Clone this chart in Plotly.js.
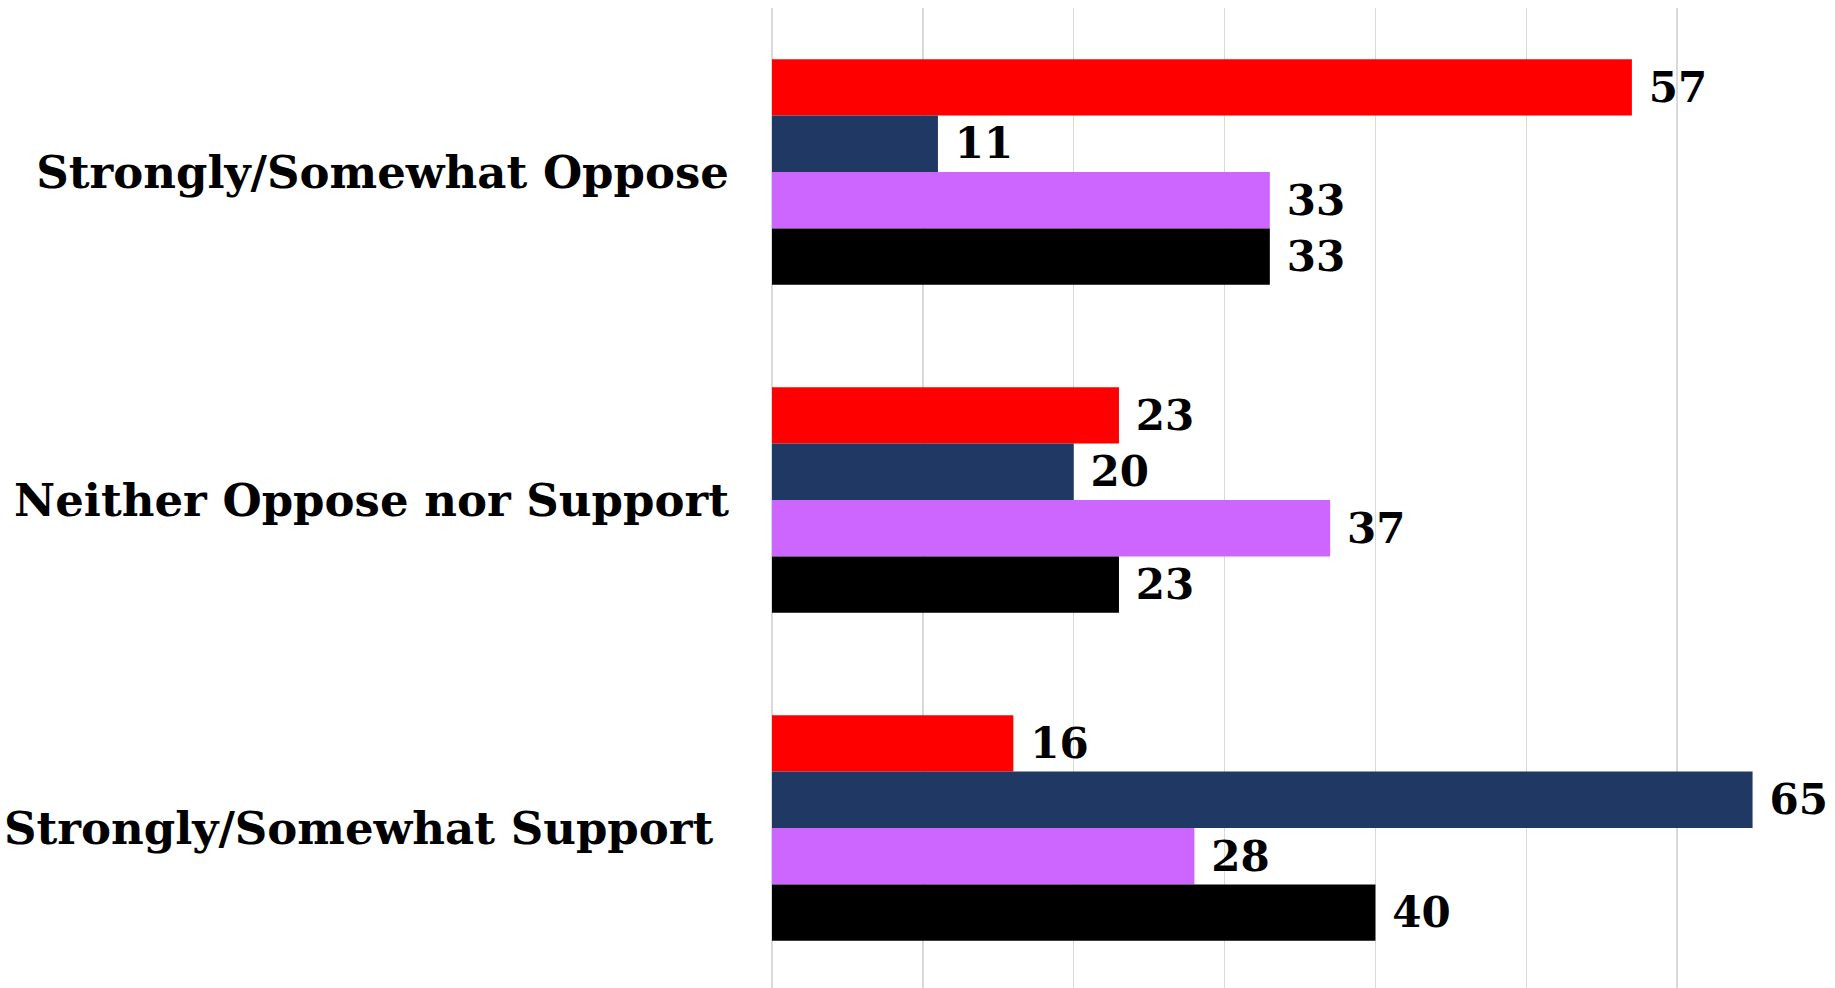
<!DOCTYPE html>
<html><head><meta charset="utf-8">
<script src="https://cdn.plot.ly/plotly-3.0.1.min.js"></script>
<style>html,body{margin:0;padding:0;overflow:hidden;background:#fff}</style>
</head><body>
<div id="chart" style="width:1835px;height:992px"></div>
<script>
const categories = ["Strongly/Somewhat Oppose", "Neither Oppose nor Support", "Strongly/Somewhat Support"];
const seriesNames = ["Republicans", "Democrats", "Independents", "All"];
const seriesColors = ["#FF0000", "#203864", "#CC66FF", "#000000"];
const republicans = [57, 23, 16];
const democrats = [11, 20, 65];
const independents = [33, 37, 28];
const allVoters = [33, 23, 40];
const seriesValues = [republicans, democrats, independents, allVoters];
const xTicks = [0, 10, 20, 30, 40, 50, 60, 70];

const fontFam = "DejaVu Serif, Georgia, serif";
const traces = seriesValues.map((vals, i) => ({
  type: 'bar', orientation: 'h', name: seriesNames[i],
  y: categories, x: vals,
  marker: {color: seriesColors[i]},
  texttemplate: '\u2004%{x}', textposition: 'outside',
  textfont: {family: fontFam, size: 42, color: '#000', weight: 700},
  constraintext: 'none', cliponaxis: false, showlegend: false,
  hoverinfo: 'x+name'
}));

// the last label sits a little further left in the reference
const tickLabels = categories.map((c, i) => i === 2 ? c + '\u00A0' : c);

const layout = {
  width: 1835, height: 992,
  margin: {l: 772, r: 7, t: 8, b: 0, pad: 0},
  paper_bgcolor: '#fff', plot_bgcolor: '#fff',
  barmode: 'group', bargap: 0.312, bargroupgap: 0,
  showlegend: false,
  xaxis: {range: [0, 70], tickvals: xTicks, showticklabels: false, showgrid: true,
          gridcolor: '#D9D9D9', gridwidth: 1.5, zeroline: true, zerolinecolor: '#D9D9D9',
          zerolinewidth: 1.5, showline: false, ticks: '', fixedrange: true},
  yaxis: {autorange: 'reversed', type: 'category', showgrid: false, zeroline: false,
          showline: false, ticks: '', ticklabelstandoff: 42,
          tickvals: categories, ticktext: tickLabels,
          tickfont: {family: fontFam, size: 45, color: '#000', weight: 700}, fixedrange: true}
};
Plotly.newPlot('chart', traces, layout, {displayModeBar: false, staticPlot: true});
</script>
</body></html>
